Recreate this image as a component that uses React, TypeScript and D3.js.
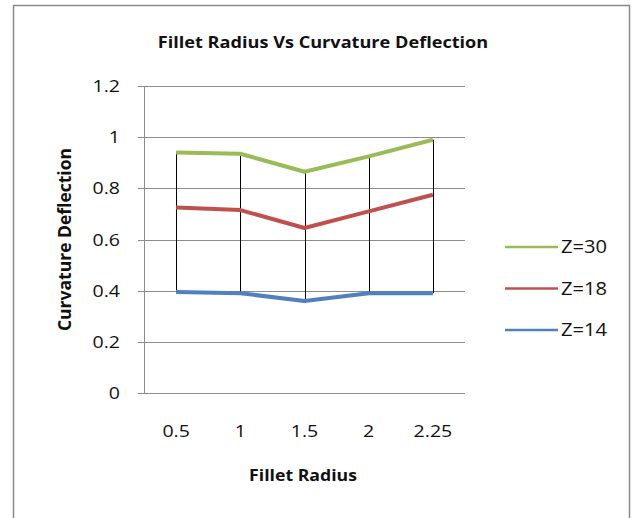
import React from "react";
import * as d3 from "d3";

const WIDTH = 632;
const HEIGHT = 518;

const categories = ["0.5", "1", "1.5", "2", "2.25"];
const z30 = [0.94, 0.935, 0.865, 0.925, 0.99];
const z18 = [0.725, 0.715, 0.645, 0.71, 0.775];
const z14 = [0.395, 0.39, 0.36, 0.39, 0.39];
const yTicks = [0, 0.2, 0.4, 0.6, 0.8, 1, 1.2];

const seriesList = [
  { name: "Z=30", values: z30, color: "#9bbb59" },
  { name: "Z=18", values: z18, color: "#c0504d" },
  { name: "Z=14", values: z14, color: "#4f81bd" },
];

const FONT = "'Open Sans', Lato, sans-serif";

// the source picture is stretched sideways, so text gets a horizontal scale
const Label = ({
  x,
  y,
  anchor = "start",
  size,
  bold = false,
  sx = 1.15,
  dy,
  children,
}: {
  x: number;
  y: number;
  anchor?: string;
  size: number;
  bold?: boolean;
  sx?: number;
  dy?: string;
  children: React.ReactNode;
}) => (
  <text
    transform={`translate(${x},${y}) scale(${sx},1)`}
    textAnchor={anchor}
    fontSize={size}
    fontWeight={bold ? "bold" : "normal"}
    dy={dy}
    fill="#111"
  >
    {children}
  </text>
);

const App = () => {
  const plot = { left: 144, right: 465, top: 86, bottom: 393 };

  const x = d3
    .scaleBand<string>()
    .domain(categories)
    .range([plot.left, plot.right])
    .padding(0);
  const cx = (c: string) => (x(c) || 0) + x.bandwidth() / 2;

  const y = d3.scaleLinear().domain([0, 1.2]).range([plot.bottom, plot.top]);

  const line = d3
    .line<number>()
    .x((_, i) => cx(categories[i]))
    .y((d) => y(d));

  const legendY = d3
    .scalePoint<string>()
    .domain(seriesList.map((s) => s.name))
    .range([247, 330]);

  return (
    <svg
      width={WIDTH}
      height={HEIGHT}
      style={{ position: "absolute", left: 0, top: 0, background: "#fff" }}
      fontFamily={FONT}
    >
      {/* chart frame */}
      <rect
        x={13.5}
        y={5.5}
        width={616}
        height={HEIGHT + 20}
        fill="#fff"
        stroke="#8a8a8a"
        strokeWidth={1.5}
      />

      <Label x={323} y={48} anchor="middle" size={15.5} bold sx={1.17}>
        Fillet Radius Vs Curvature Deflection
      </Label>

      {/* gridlines */}
      <g stroke="#8c8c8c" strokeWidth={1}>
        {yTicks.map((t) => (
          <line
            key={t}
            x1={plot.left - 6}
            x2={plot.right}
            y1={Math.round(y(t)) + 0.5}
            y2={Math.round(y(t)) + 0.5}
          />
        ))}
        <line
          x1={plot.left + 0.5}
          x2={plot.left + 0.5}
          y1={plot.top}
          y2={plot.bottom}
        />
      </g>

      {/* y tick labels */}
      {yTicks.map((t) => (
        <Label key={t} x={120} y={y(t)} dy="0.36em" anchor="end" size={17}>
          {d3.format("")(t)}
        </Label>
      ))}

      {/* x tick labels */}
      {categories.map((c) => (
        <Label key={c} x={cx(c)} y={436.5} anchor="middle" size={17}>
          {c}
        </Label>
      ))}

      {/* high-low lines */}
      <g stroke="#000" strokeWidth={1}>
        {categories.map((c, i) => (
          <line
            key={c}
            x1={Math.round(cx(c)) + 0.5}
            x2={Math.round(cx(c)) + 0.5}
            y1={y(z30[i])}
            y2={y(z14[i])}
          />
        ))}
      </g>

      {/* series */}
      {seriesList.map((s) => (
        <path
          key={s.name}
          d={line(s.values) || ""}
          fill="none"
          stroke={s.color}
          strokeWidth={4}
          strokeLinejoin="round"
        />
      ))}

      {/* axis titles */}
      <Label x={303} y={481} anchor="middle" size={15.5} bold sx={1.14}>
        Fillet Radius
      </Label>
      <text
        transform={`translate(71,${(plot.top + plot.bottom) / 2}) rotate(-90)`}
        textAnchor="middle"
        fontSize={17.5}
        fontWeight="bold"
        fill="#111"
      >
        Curvature Deflection
      </text>

      {/* legend */}
      {seriesList.map((s) => (
        <g key={s.name}>
          <line
            x1={505}
            x2={558}
            y1={legendY(s.name)}
            y2={legendY(s.name)}
            stroke={s.color}
            strokeWidth={2.5}
          />
          <Label x={561} y={legendY(s.name) || 0} dy="0.36em" size={17.5}>
            {s.name}
          </Label>
        </g>
      ))}
    </svg>
  );
};

export default App;
